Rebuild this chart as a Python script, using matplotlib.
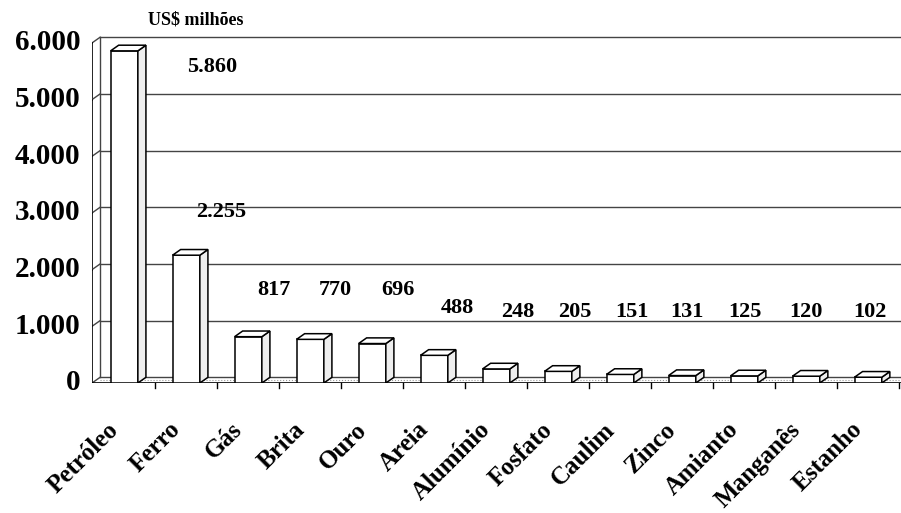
import matplotlib.pyplot as plt
from matplotlib.patches import Polygon

plt.rcParams['font.family'] = ['Liberation Serif', 'DejaVu Serif']
plt.rcParams['font.weight'] = 'bold'

# valores de produção mineral (US$ milhões)
produtos = ['Petróleo', 'Ferro', 'Gás', 'Brita', 'Ouro', 'Areia', 'Alumínio',
            'Fosfato', 'Caulim', 'Zinco', 'Amianto', 'Manganês', 'Estanho']
valores = [5860, 2255, 817, 770, 696, 488, 248, 205, 151, 131, 125, 120, 102]
rotulos = ['5.860', '2.255', '817', '770', '696', '488', '248',
           '205', '151', '131', '125', '120', '102']
yticks = [0, 1000, 2000, 3000, 4000, 5000, 6000]
ytick_labels = ['0', '1.000', '2.000', '3.000', '4.000', '5.000', '6.000']

# posição dos rótulos de valor (deslocamento em x, altura)
rot_dx = [1.42, 0.56, 0.42, 0.40, 0.42, 0.37, 0.34, 0.27, 0.19, 0.08, 0.02, 0.0, 0.03]
rot_y = [5580, 3020, 1640, 1640, 1640, 1320, 1250, 1250, 1250, 1250, 1250, 1250, 1250]

fig = plt.figure(figsize=(9.01, 5.13), dpi=100)
ax = fig.add_axes([92 / 901, 130 / 513, 809 / 901, 351.4 / 513])
x0, x1 = -0.52, 12.53
ax.set_xlim(x0, x1)
ax.set_ylim(0, 6200)
ax.axis('off')

dx, dy = 0.13, 100   # profundidade do efeito 3D
w = 0.44
grid_c = '#444444'

# parede lateral e linhas de grade do fundo
ax.plot([x0, x0], [0, 6000], color='black', lw=1.2, zorder=1)
ax.plot([x0 + dx, x0 + dx], [dy, 6000 + dy], color=grid_c, lw=1, zorder=1)
for v in yticks:
    ax.plot([x0, x0 + dx], [v, v + dy], color=grid_c, lw=1, zorder=1)
    ax.plot([x0 + dx, x1], [v + dy, v + dy], color=grid_c, lw=1, zorder=1)
    ax.plot([x0 - 0.08, x0], [v, v], color='black', lw=1.2, zorder=1)
ax.plot([x0, x1], [0, 0], color='black', lw=1.2, zorder=1)
ax.plot([x0 + dx, x1], [dy / 2, dy / 2], color='#999999', lw=0.8, ls=':', zorder=1)

for v, lab in zip(yticks, ytick_labels):
    ax.text(x0 - 0.19, v, lab, ha='right', va='center', fontsize=21,
            fontweight='bold', clip_on=False)

# divisões entre categorias
for i in range(len(produtos)):
    ax.plot([i + 0.5, i + 0.5], [0, -90], color='black', lw=1, clip_on=False)

# barras com face frontal, lateral e topo
for i, v in enumerate(valores):
    l, r = i - w / 2, i + w / 2
    frente = Polygon([(l, 0), (r, 0), (r, v), (l, v)], closed=True,
                     facecolor='white', edgecolor='black', lw=1.1, zorder=3)
    lado = Polygon([(r, 0), (r + dx, dy), (r + dx, v + dy), (r, v)], closed=True,
                   facecolor='#eeeeee', edgecolor='black', lw=1.1, zorder=3)
    topo = Polygon([(l, v), (l + dx, v + dy), (r + dx, v + dy), (r, v)], closed=True,
                   facecolor='white', edgecolor='black', lw=1.1, zorder=3)
    for p in (frente, lado, topo):
        ax.add_patch(p)

for i, (lab, ox, oy) in enumerate(zip(rotulos, rot_dx, rot_y)):
    ax.text(i + ox, oy, lab, ha='center', va='center', fontsize=16,
            fontweight='bold', zorder=4)

for i, nome in enumerate(produtos):
    ax.text(i - 0.15, -760, nome, rotation=45, rotation_mode='anchor',
            ha='right', va='center', fontsize=18, fontweight='bold', clip_on=False)

fig.text(196 / 901, 1 - 20 / 513, 'US$ milhões', ha='center', va='center',
         fontsize=13, fontweight='bold')

fig.savefig('out.png', dpi=100)
